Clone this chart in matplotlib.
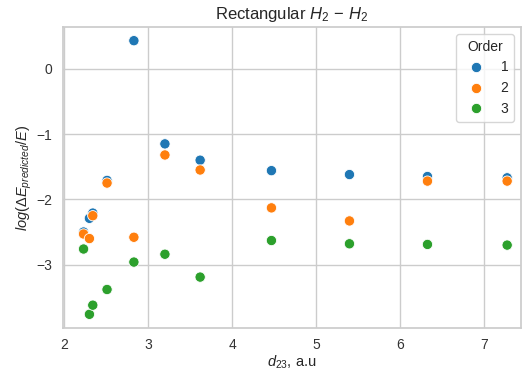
import numpy as np
import pandas as pd
import matplotlib
matplotlib.use("Agg")
import matplotlib.pyplot as plt
import seaborn as sns

# distances d23 (a.u) for each geometry
d23 = [2.23, 2.30, 2.34, 2.51, 2.83, 3.20, 3.62, 4.47, 5.40, 6.33, 7.28]

# log(dE_predicted / E) for each order of the expansion
order1 = [-2.50, -2.29, -2.21, -1.71, 0.43, -1.15, -1.40, -1.56, -1.62, -1.65, -1.67]
order2 = [-2.53, -2.60, -2.25, -1.75, -2.58, -1.32, -1.55, -2.13, -2.33, -1.72, -1.72]
order3 = [-2.76, -3.76, -3.62, -3.38, -2.96, -2.84, -3.19, -2.63, -2.68, -2.69, -2.70]

df = pd.DataFrame({
    "d23": d23 * 3,
    "err": order1 + order2 + order3,
    "Order": ["1"] * len(d23) + ["2"] * len(d23) + ["3"] * len(d23),
})

sns.set_theme(style="whitegrid")
plt.rcParams["font.family"] = ["Liberation Sans", "DejaVu Sans"]
plt.rcParams["mathtext.fontset"] = "custom"
plt.rcParams["mathtext.rm"] = "Liberation Sans"
plt.rcParams["mathtext.it"] = "Liberation Sans:italic"
plt.rcParams["mathtext.bf"] = "Liberation Sans:bold"

fig, ax = plt.subplots(figsize=(5.22, 3.76), dpi=100)
fig.subplots_adjust(left=63 / 522, right=521 / 522, top=1 - 27 / 376, bottom=1 - 328 / 376)

sns.scatterplot(data=df, x="d23", y="err", hue="Order", palette="tab10",
                s=55, ax=ax)
ax.set_xlim(1.985, 7.445)
ax.set_title(r"Rectangular $H_2\,-\,H_2$", fontsize=12)
ax.set_xlabel("$d_{23}$, a.u", fontsize=10.5, labelpad=1)
ax.set_ylabel(r"$log(\Delta E_{predicted}/E)$", fontsize=10.5, labelpad=2)
ax.tick_params(labelsize=10, labelcolor="#333333", pad=1.5)
leg = ax.legend(title="Order", loc="upper right", fontsize=10, title_fontsize=10)

fig.savefig("out.png", dpi=100)
